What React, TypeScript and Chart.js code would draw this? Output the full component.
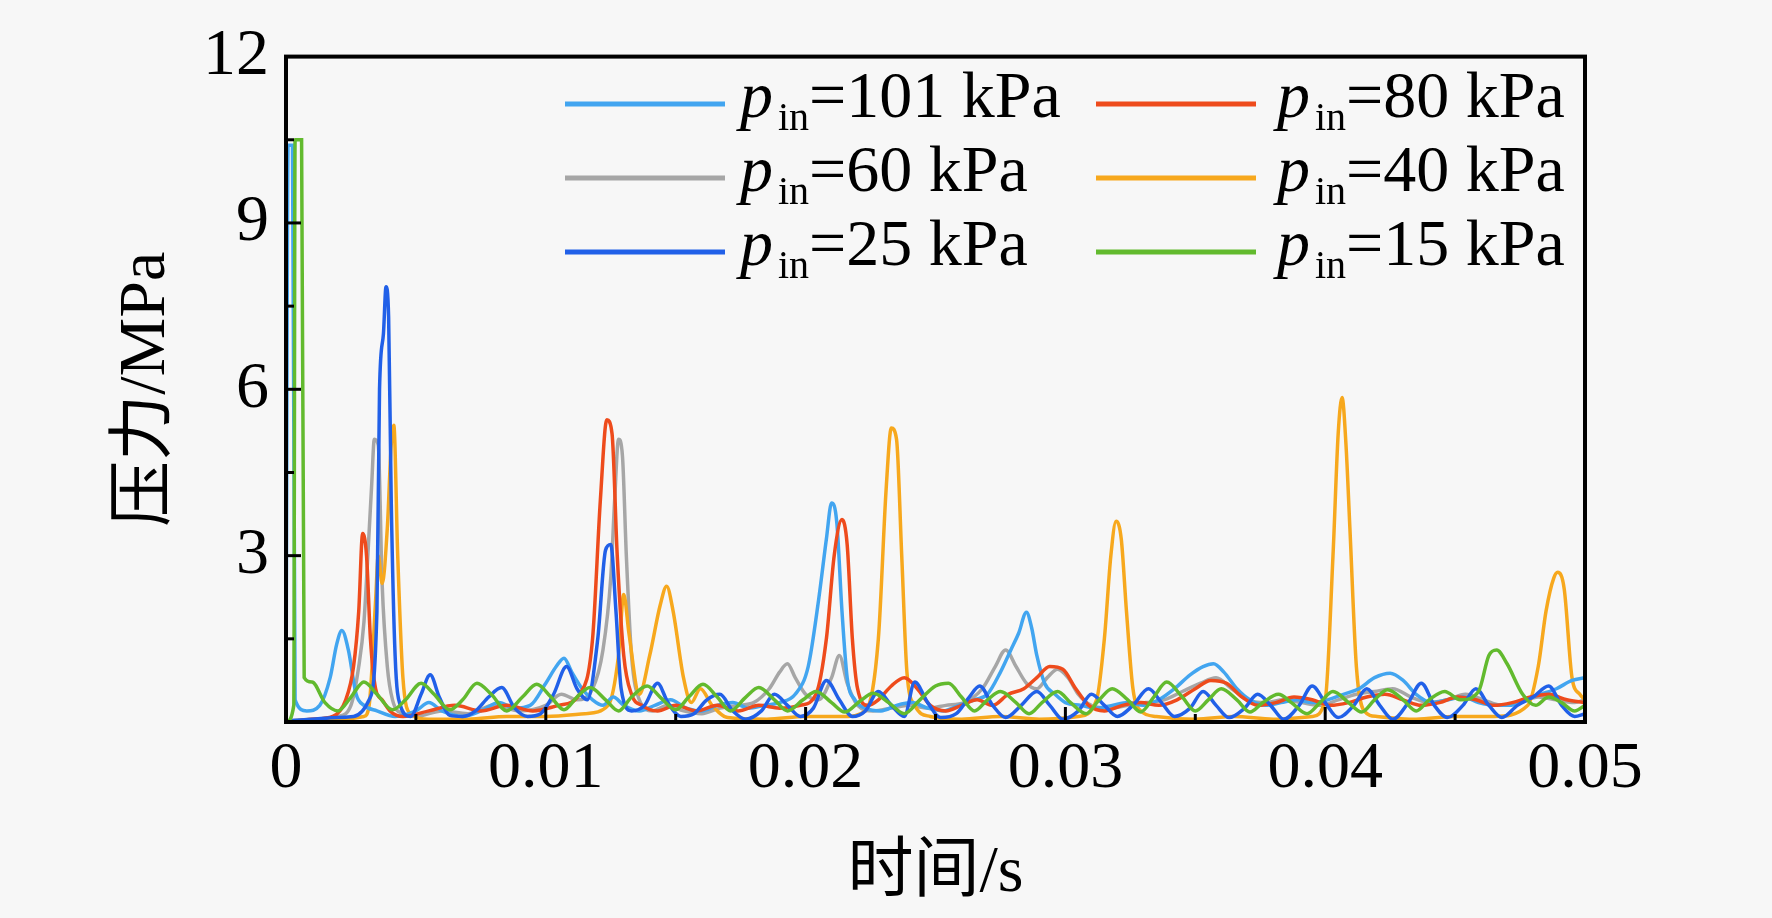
import React, { useEffect, useRef } from 'react'
import Chart from 'chart.js/auto'

// [time in ms, pressure in MPa]
const s101: [number, number][] = [
  [0, 0], [0.08, 10.4], [0.25, 10.4], [0.35, 0.4], [0.8, 0.2], [1.3, 0.3], [1.7, 0.8], [1.95, 1.4], [2.15, 1.65],
  [2.4, 1.3], [2.7, 0.5], [3.0, 0.3], [3.5, 0.2], [4.2, 0.1], [5.0, 0.2], [5.5, 0.35], [6.0, 0.2], [6.8, 0.1],
  [7.5, 0.2], [8.2, 0.35], [8.8, 0.25], [9.4, 0.3], [10.0, 0.7], [10.4, 1.0], [10.7, 1.15], [11.0, 0.9], [11.4, 0.6],
  [11.8, 0.4], [12.2, 0.3], [12.6, 0.45], [13.0, 0.3], [13.6, 0.2], [14.2, 0.3], [14.8, 0.4], [15.4, 0.25], [16.0, 0.2],
  [16.6, 0.3], [17.2, 0.35], [17.8, 0.25], [18.4, 0.3], [19.0, 0.35], [19.6, 0.5], [20.1, 1.0], [20.5, 2.2], [20.8, 3.3],
  [21.0, 3.95], [21.2, 3.6], [21.4, 2.0], [21.6, 0.8], [21.9, 0.4], [22.3, 0.25], [22.9, 0.2], [23.5, 0.3], [24.1, 0.35],
  [24.7, 0.25], [25.3, 0.2], [25.9, 0.3], [26.5, 0.4], [27.0, 0.5], [27.5, 0.9], [27.9, 1.3], [28.2, 1.6], [28.5, 1.98],
  [28.7, 1.7], [28.9, 1.2], [29.2, 0.7], [29.6, 0.5], [30.0, 0.35], [30.6, 0.3], [31.2, 0.25], [31.8, 0.3], [32.4, 0.35],
  [33.0, 0.3], [33.6, 0.4], [34.2, 0.6], [34.8, 0.85], [35.3, 1.0], [35.7, 1.05], [36.1, 0.9], [36.6, 0.6], [37.1, 0.4],
  [37.7, 0.3], [38.3, 0.35], [38.9, 0.4], [39.5, 0.35], [40.1, 0.4], [40.7, 0.5], [41.3, 0.6], [41.9, 0.8], [42.5, 0.88],
  [43.0, 0.75], [43.5, 0.5], [44.1, 0.35], [44.7, 0.4], [45.3, 0.45], [45.9, 0.35], [46.5, 0.3], [47.1, 0.3], [47.7, 0.4],
  [48.3, 0.5], [48.9, 0.6], [49.5, 0.75], [50, 0.8]
]

const s80: [number, number][] = [
  [0, 0], [1.0, 0.05], [1.8, 0.1], [2.3, 0.4], [2.6, 1.0], [2.8, 2.0], [2.95, 3.4], [3.1, 3.0], [3.25, 1.5], [3.45, 0.6],
  [3.7, 0.4], [4.0, 0.2], [4.5, 0.1], [5.5, 0.2], [6.5, 0.3], [7.5, 0.2], [8.5, 0.3], [9.5, 0.2], [10.5, 0.3], [11.3, 0.5],
  [11.8, 1.5], [12.1, 4.0], [12.35, 5.45], [12.55, 5.2], [12.75, 3.0], [13.0, 1.2], [13.3, 0.5], [13.7, 0.3], [14.3, 0.2],
  [15.0, 0.3], [15.8, 0.2], [16.6, 0.3], [17.4, 0.2], [18.2, 0.3], [19.0, 0.25], [19.8, 0.3], [20.4, 0.5], [20.8, 1.5],
  [21.1, 3.0], [21.4, 3.65], [21.6, 3.2], [21.8, 1.5], [22.0, 0.6], [22.4, 0.3], [22.8, 0.4], [23.3, 0.65], [23.8, 0.8],
  [24.3, 0.6], [24.8, 0.3], [25.4, 0.2], [26.0, 0.3], [26.6, 0.4], [27.2, 0.3], [27.8, 0.5], [28.4, 0.6], [28.9, 0.8],
  [29.4, 1.0], [29.9, 0.95], [30.4, 0.6], [30.9, 0.3], [31.5, 0.2], [32.2, 0.3], [32.9, 0.35], [33.6, 0.3], [34.3, 0.4],
  [35.0, 0.6], [35.6, 0.75], [36.2, 0.7], [36.8, 0.45], [37.4, 0.3], [38.1, 0.35], [38.8, 0.45], [39.5, 0.4], [40.2, 0.3],
  [40.9, 0.35], [41.6, 0.45], [42.3, 0.5], [43.0, 0.4], [43.7, 0.3], [44.4, 0.35], [45.1, 0.45], [45.8, 0.4], [46.5, 0.3],
  [47.2, 0.35], [47.9, 0.45], [48.6, 0.5], [49.3, 0.4], [50, 0.35]
]

const s60: [number, number][] = [
  [0, 0.02], [1.0, 0.05], [2.0, 0.1], [2.5, 0.3], [2.8, 1.0], [3.0, 1.8], [3.15, 3.0], [3.3, 4.3], [3.4, 5.1], [3.55, 5.0],
  [3.7, 2.5], [3.9, 1.0], [4.1, 0.4], [4.5, 0.15], [5.0, 0.1], [6.0, 0.2], [7.0, 0.15], [8.0, 0.3], [9.0, 0.2], [10.0, 0.3],
  [10.6, 0.5], [11.2, 0.4], [11.8, 0.6], [12.2, 1.3], [12.5, 2.6], [12.65, 4.0], [12.8, 5.1], [12.95, 4.8], [13.1, 3.0],
  [13.3, 1.2], [13.6, 0.4], [14.1, 0.2], [14.7, 0.3], [15.3, 0.2], [16.0, 0.15], [16.7, 0.25], [17.4, 0.3], [18.0, 0.35],
  [18.6, 0.6], [19.0, 0.9], [19.3, 1.05], [19.6, 0.8], [20.0, 0.5], [20.5, 0.4], [21.0, 0.8], [21.3, 1.2], [21.6, 0.7],
  [22.0, 0.3], [22.6, 0.2], [23.3, 0.25], [24.0, 0.3], [24.7, 0.25], [25.4, 0.3], [26.1, 0.35], [26.8, 0.6], [27.3, 1.0],
  [27.7, 1.3], [28.1, 1.0], [28.5, 0.7], [28.9, 0.6], [29.3, 0.8], [29.7, 0.95], [30.1, 0.8], [30.5, 0.5], [31.0, 0.3],
  [31.7, 0.25], [32.4, 0.3], [33.1, 0.35], [33.8, 0.4], [34.5, 0.55], [35.2, 0.7], [35.8, 0.8], [36.4, 0.6], [37.0, 0.4],
  [37.7, 0.35], [38.4, 0.4], [39.1, 0.35], [39.8, 0.3], [40.5, 0.4], [41.2, 0.5], [41.9, 0.55], [42.6, 0.6], [43.3, 0.45],
  [44.0, 0.35], [44.7, 0.4], [45.4, 0.5], [46.1, 0.4], [46.8, 0.3], [47.5, 0.35], [48.2, 0.45], [48.9, 0.4], [49.6, 0.35],
  [50, 0.4]
]

const s40: [number, number][] = [
  [0, 0], [1.0, 0.02], [2.0, 0.05], [3.0, 0.1], [3.2, 0.3], [3.45, 2.2], [3.55, 3.0], [3.7, 2.5], [3.9, 3.5], [4.05, 5.0],
  [4.15, 5.35], [4.3, 3.0], [4.5, 0.8], [4.8, 0.15], [5.5, 0.05], [7.0, 0.05], [8.5, 0.1], [10.0, 0.1], [11.5, 0.15],
  [12.4, 0.3], [12.8, 1.2], [13.0, 2.3], [13.2, 1.6], [13.6, 0.5], [14.0, 1.2], [14.4, 2.1], [14.65, 2.45], [14.9, 2.0],
  [15.3, 0.8], [15.6, 0.35], [15.95, 0.6], [16.4, 0.3], [17.0, 0.08], [18.5, 0.05], [20.0, 0.1], [21.5, 0.1], [22.3, 0.2],
  [22.8, 1.5], [23.1, 4.2], [23.3, 5.3], [23.5, 5.1], [23.7, 3.0], [23.9, 0.9], [24.2, 0.3], [24.8, 0.1], [26.0, 0.05],
  [27.5, 0.1], [29.0, 0.05], [30.5, 0.1], [31.2, 0.4], [31.5, 1.5], [31.75, 3.0], [31.95, 3.62], [32.15, 3.3], [32.35, 2.0],
  [32.6, 0.6], [32.9, 0.2], [33.5, 0.1], [35.0, 0.05], [36.5, 0.1], [38.0, 0.05], [39.5, 0.1], [40.0, 0.4], [40.3, 3.0],
  [40.5, 5.2], [40.65, 5.85], [40.8, 5.0], [40.95, 3.5], [41.2, 1.0], [41.5, 0.2], [42.0, 0.1], [43.5, 0.05], [45.0, 0.1],
  [46.5, 0.1], [47.8, 0.3], [48.2, 1.0], [48.5, 2.0], [48.8, 2.6], [48.95, 2.7], [49.2, 2.4], [49.5, 0.8], [49.8, 0.5],
  [50, 0.4]
]

const s25: [number, number][] = [
  [0, 0.02], [1.0, 0.05], [2.0, 0.08], [2.6, 0.1], [3.2, 0.4], [3.5, 2.0], [3.6, 6.0], [3.75, 7.0], [3.85, 7.85],
  [3.95, 7.3], [4.05, 4.0], [4.2, 1.2], [4.4, 0.3], [4.8, 0.1], [5.2, 0.5], [5.55, 0.85], [5.9, 0.45], [6.3, 0.12],
  [6.8, 0.1], [7.3, 0.2], [7.8, 0.45], [8.3, 0.62], [8.8, 0.25], [9.3, 0.1], [9.8, 0.15], [10.3, 0.5], [10.8, 1.0],
  [11.2, 0.6], [11.6, 0.4], [12.0, 1.5], [12.3, 3.1], [12.5, 3.2], [12.7, 2.0], [12.9, 0.6], [13.3, 0.2], [13.8, 0.3],
  [14.3, 0.7], [14.7, 0.35], [15.2, 0.1], [15.7, 0.15], [16.2, 0.4], [16.7, 0.5], [17.2, 0.2], [17.7, 0.05], [18.3, 0.2],
  [18.8, 0.5], [19.3, 0.3], [19.8, 0.1], [20.3, 0.25], [20.8, 0.75], [21.3, 0.4], [21.8, 0.1], [22.3, 0.2], [22.8, 0.55],
  [23.3, 0.3], [23.8, 0.1], [24.2, 0.72], [24.7, 0.35], [25.2, 0.08], [25.8, 0.15], [26.3, 0.45], [26.7, 0.65], [27.2, 0.3],
  [27.7, 0.08], [28.3, 0.3], [28.9, 0.55], [29.4, 0.3], [29.9, 0.05], [30.5, 0.2], [31.0, 0.5], [31.5, 0.3], [32.0, 0.1],
  [32.6, 0.3], [33.2, 0.6], [33.7, 0.35], [34.2, 0.1], [34.8, 0.25], [35.3, 0.55], [35.8, 0.3], [36.3, 0.08], [36.9, 0.25],
  [37.4, 0.5], [37.9, 0.3], [38.4, 0.05], [39.0, 0.3], [39.5, 0.65], [40.0, 0.35], [40.5, 0.08], [41.1, 0.3], [41.6, 0.6],
  [42.1, 0.3], [42.6, 0.05], [43.2, 0.35], [43.7, 0.7], [44.2, 0.3], [44.7, 0.08], [45.3, 0.3], [45.8, 0.6], [46.3, 0.3],
  [46.8, 0.08], [47.4, 0.3], [48.0, 0.45], [48.6, 0.65], [49.1, 0.3], [49.6, 0.1], [50, 0.15]
]

const s15: [number, number][] = [
  [0, 0], [0.3, 0.3], [0.35, 10.5], [0.6, 10.5], [0.7, 0.8], [1.0, 0.72], [1.5, 0.35], [2.0, 0.2], [2.5, 0.45], [3.0, 0.72],
  [3.5, 0.5], [4.1, 0.22], [4.6, 0.4], [5.2, 0.7], [5.7, 0.5], [6.3, 0.22], [6.8, 0.4], [7.35, 0.7], [7.9, 0.5], [8.5, 0.2],
  [9.1, 0.45], [9.65, 0.68], [10.2, 0.45], [10.7, 0.22], [11.2, 0.45], [11.7, 0.62], [12.3, 0.4], [12.8, 0.2], [13.3, 0.45],
  [13.9, 0.65], [14.4, 0.45], [15.0, 0.22], [15.5, 0.45], [16.05, 0.68], [16.6, 0.45], [17.1, 0.2], [17.7, 0.45], [18.2, 0.62],
  [18.8, 0.4], [19.3, 0.2], [19.9, 0.4], [20.4, 0.55], [21.0, 0.35], [21.5, 0.18], [22.1, 0.38], [22.6, 0.52], [23.2, 0.35],
  [23.8, 0.15], [24.4, 0.4], [25.0, 0.65], [25.5, 0.7], [26.0, 0.45], [26.5, 0.2], [27.0, 0.4], [27.5, 0.55], [28.1, 0.35],
  [28.6, 0.15], [29.1, 0.35], [29.7, 0.55], [30.2, 0.35], [30.8, 0.15], [31.3, 0.4], [31.8, 0.6], [32.4, 0.4], [32.9, 0.18],
  [33.4, 0.45], [33.9, 0.72], [34.5, 0.45], [35.0, 0.2], [35.5, 0.4], [36.0, 0.6], [36.6, 0.4], [37.1, 0.18], [37.6, 0.35],
  [38.2, 0.5], [38.7, 0.35], [39.3, 0.15], [39.8, 0.35], [40.3, 0.55], [40.9, 0.35], [41.4, 0.18], [41.9, 0.4], [42.4, 0.58],
  [43.0, 0.4], [43.5, 0.2], [44.0, 0.4], [44.6, 0.55], [45.2, 0.4], [45.9, 0.55], [46.3, 1.2], [46.6, 1.3], [47.0, 1.05],
  [47.6, 0.5], [48.1, 0.3], [48.6, 0.45], [49.1, 0.35], [49.6, 0.2], [50, 0.3]
]

const seriesData = [s101, s80, s60, s40, s25, s15]
const seriesLabels = ['101 kPa', '80 kPa', '60 kPa', '40 kPa', '25 kPa', '15 kPa']
const seriesColors = ['#42a5f0', '#ee4b1c', '#a6a6a6', '#f7a81d', '#2160e8', '#62ba2e']
const drawOrder = [3, 2, 5, 4, 1, 0] // lower = drawn on top

const xTicks = [0, 0.01, 0.02, 0.03, 0.04, 0.05]
const xMinor = [0.005, 0.015, 0.025, 0.035, 0.045]
const yTicks = [0, 3, 6, 9, 12]
const yMinor = [1.5, 4.5, 7.5, 10.5]

const FONT = '"Liberation Serif", "Noto Sans CJK SC", serif'

const frameTicks = {
  id: 'frameTicks',
  afterDatasetsDraw(chart: any) {
    const { ctx, chartArea: a, scales } = chart
    ctx.save()
    ctx.strokeStyle = '#000'
    ctx.lineWidth = 3
    const seg = (x1: number, y1: number, x2: number, y2: number) => {
      ctx.beginPath()
      ctx.moveTo(x1, y1)
      ctx.lineTo(x2, y2)
      ctx.stroke()
    }
    yTicks.slice(1, -1).forEach(v => {
      const y = scales.y.getPixelForValue(v)
      seg(a.left, y, a.left + 15, y)
    })
    yMinor.forEach(v => {
      const y = scales.y.getPixelForValue(v)
      seg(a.left, y, a.left + 8, y)
    })
    xTicks.slice(1, -1).forEach(v => {
      const x = scales.x.getPixelForValue(v)
      seg(x, a.bottom, x, a.bottom - 15)
    })
    xMinor.forEach(v => {
      const x = scales.x.getPixelForValue(v)
      seg(x, a.bottom, x, a.bottom - 8)
    })
    ctx.lineWidth = 4
    ctx.strokeRect(a.left, a.top, a.right - a.left, a.bottom - a.top)
    ctx.restore()
  }
}

// legend: p_in=... in two columns
const legendBox = {
  id: 'legendBox',
  afterDraw(chart: any) {
    const { ctx } = chart
    const lineX = [565, 1096]
    const textX = [740, 1277]
    ctx.save()
    seriesLabels.forEach((label, i) => {
      const col = i % 2
      const y = 104 + Math.floor(i / 2) * 74
      ctx.strokeStyle = seriesColors[i]
      ctx.lineWidth = 5
      ctx.beginPath()
      ctx.moveTo(lineX[col], y)
      ctx.lineTo(lineX[col] + 160, y)
      ctx.stroke()

      ctx.fillStyle = '#000'
      ctx.textAlign = 'left'
      ctx.textBaseline = 'alphabetic'
      let x = textX[col]
      ctx.font = `italic 66px ${FONT}`
      ctx.fillText('p', x, y + 13)
      x += ctx.measureText('p').width + 5
      ctx.font = `40px ${FONT}`
      ctx.fillText('in', x, y + 26)
      x += ctx.measureText('in').width
      ctx.font = `66px ${FONT}`
      ctx.fillText('=' + label, x, y + 13)
    })
    ctx.restore()
  }
}

const App: React.FC = () => {
  const chartRef = useRef<HTMLCanvasElement | null>(null)
  const chartInstance = useRef<Chart | null>(null)

  useEffect(() => {
    if (chartRef.current === null) return
    if (chartInstance.current !== null) chartInstance.current.destroy()

    const tickFont = { family: FONT, size: 66, lineHeight: 1.2 }

    chartInstance.current = new Chart(chartRef.current, {
      type: 'line',
      data: {
        datasets: seriesData.map((s, i) => ({
          label: 'pin=' + seriesLabels[i],
          data: s.map(([t, p]) => ({ x: t / 1000, y: p })),
          borderColor: seriesColors[i],
          borderWidth: 3.5,
          pointRadius: 0,
          fill: false,
          cubicInterpolationMode: 'monotone' as const,
          order: drawOrder[i]
        }))
      },
      options: {
        responsive: true,
        maintainAspectRatio: false,
        animation: false,
        layout: { padding: { left: 0, right: 187, top: 42, bottom: 0 } },
        plugins: {
          legend: { display: false },
          tooltip: { enabled: false }
        },
        scales: {
          x: {
            type: 'linear',
            min: 0,
            max: 0.05,
            afterBuildTicks: (scale: any) => {
              scale.ticks = xTicks.map(value => ({ value }))
            },
            afterFit: (scale: any) => {
              scale.height = 196
            },
            grid: { display: false, drawTicks: false },
            border: { display: false },
            ticks: {
              font: tickFont,
              color: '#000',
              padding: 8,
              maxRotation: 0,
              autoSkip: false,
              callback: (v: any) => String(v)
            },
            title: {
              display: true,
              text: '时间/s',
              font: tickFont,
              color: '#000',
              padding: { top: 0, bottom: 5 }
            }
          },
          y: {
            type: 'linear',
            min: 0,
            max: 12,
            afterBuildTicks: (scale: any) => {
              scale.ticks = yTicks.map(value => ({ value }))
            },
            afterFit: (scale: any) => {
              scale.width = 286
            },
            grid: { display: false, drawTicks: false },
            border: { display: false },
            ticks: {
              font: tickFont,
              color: '#000',
              padding: 17,
              autoSkip: false,
              callback: (v: any) => (v === 0 ? '' : String(v))
            },
            title: {
              display: true,
              text: '压力/MPa',
              font: tickFont,
              color: '#000',
              padding: { top: 107, bottom: 0 }
            }
          }
        }
      },
      plugins: [frameTicks, legendBox]
    })

    return () => {
      if (chartInstance.current !== null) {
        chartInstance.current.destroy()
        chartInstance.current = null
      }
    }
  }, [])

  return (
    <div style={{ position: 'fixed', left: 0, top: 0, width: 1772, height: 918, background: '#f7f7f7' }}>
      <canvas ref={chartRef} />
    </div>
  )
}

export default App
